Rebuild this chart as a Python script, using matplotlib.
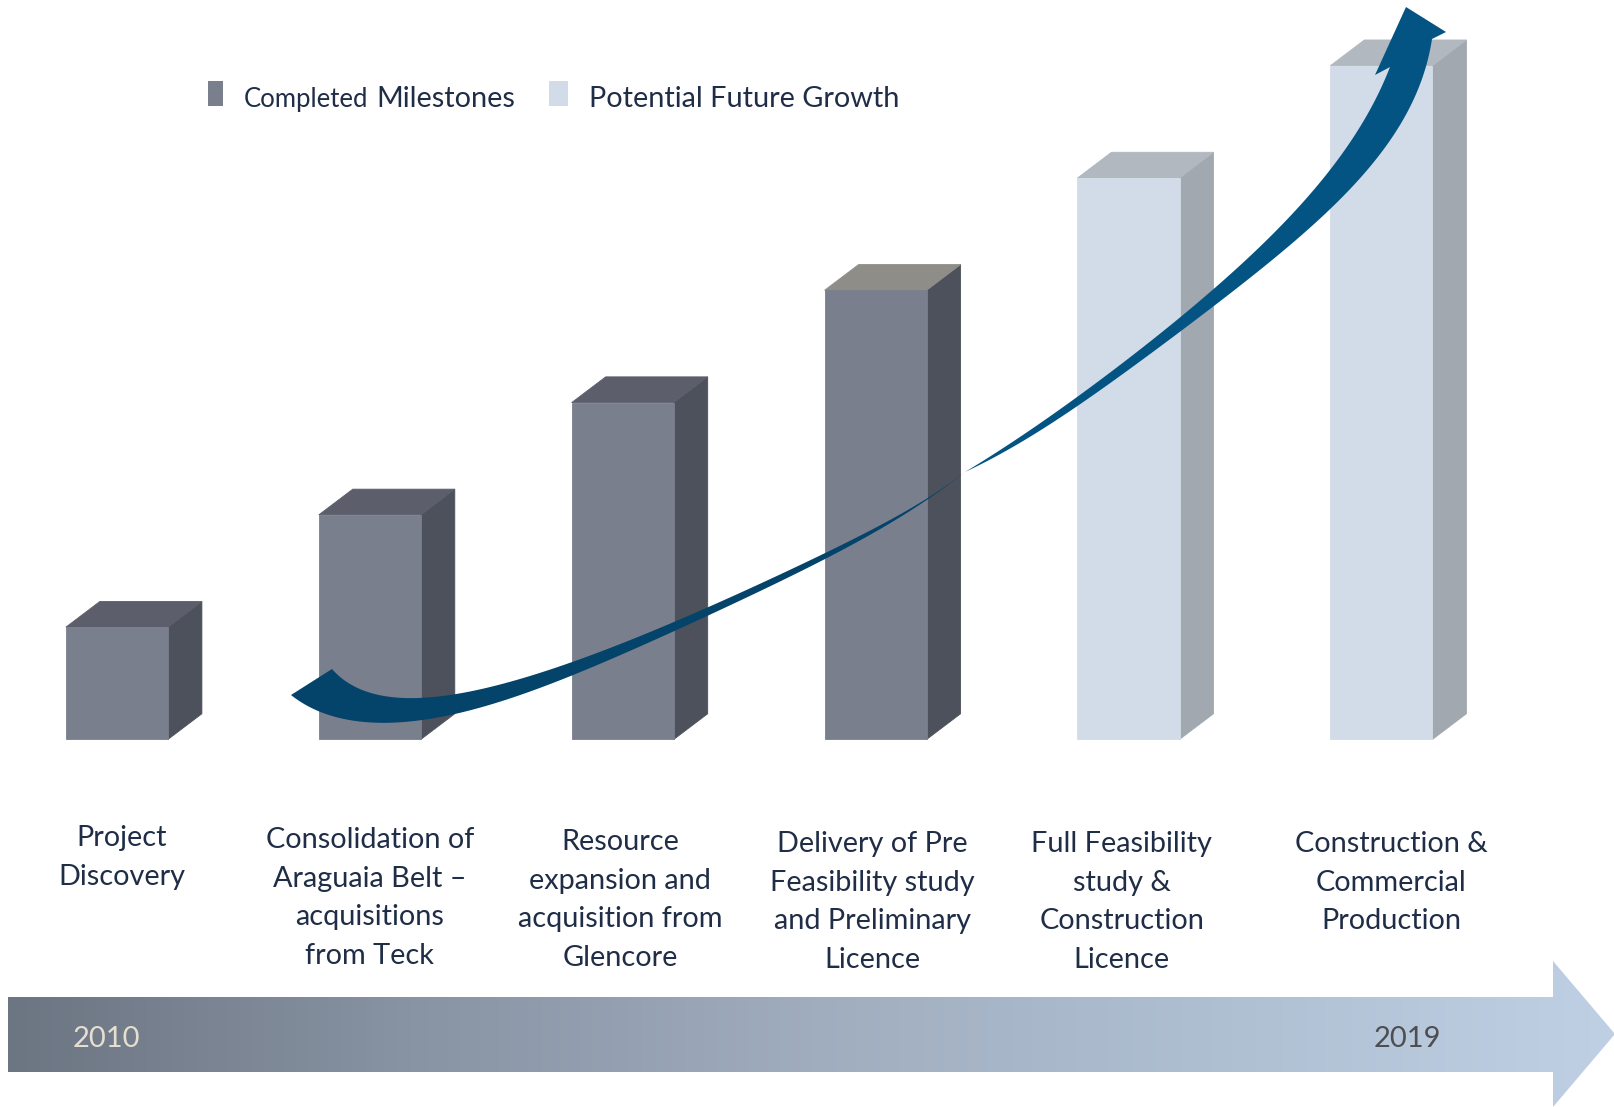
import numpy as np
import matplotlib
matplotlib.use("Agg")
import matplotlib.pyplot as plt
from matplotlib.patches import Polygon, Rectangle
from matplotlib.colors import LinearSegmentedColormap

plt.rcParams['font.family'] = ['Lato', 'DejaVu Sans']

# ---- chart content -------------------------------------------------------
stages = [
    "Project\nDiscovery",
    "Consolidation of\nAraguaia Belt –\nacquisitions\nfrom Teck",
    "Resource\nexpansion and\nacquisition from\nGlencore",
    "Delivery of Pre\nFeasibility study\nand Preliminary\nLicence",
    "Full Feasibility\nstudy &\nConstruction\nLicence",
    "Construction &\nCommercial\nProduction",
]
progress = [1, 2, 3, 4, 5, 6]
status = ["done", "done", "done", "done", "future", "future"]
years = ["2010", "2019"]

# ---- styling ---------------------------------------------------------------
FRONT = {"done": "#7a7f8e", "future": "#d2dce8"}
SIDE = {"done": "#4d515c", "future": "#a1a8b0"}
TOP = {"done": "#5c5e6c", "future": "#b1b8c0"}
TOP_OVERRIDE = {3: "#8f8d88"}
TEXT = "#1f2d46"
# small hand placement tweaks for the stage captions (x, y in axis units)
CAPTION_NUDGE = [(0.018, 0.009), (0.0, -0.009), (-0.010, -0.027),
                 (-0.014, -0.046), (-0.026, -0.046), (0.039, -0.046)]

W, H = 1615, 1107
fig = plt.figure(figsize=(W / 100, H / 100), dpi=100)

# data axes: x = stage index, y = progress units
ax = fig.add_axes([0, 0, 1, 1])
ax.set_xlim(-0.4622, 5.9237)
ax.set_ylim(-3.273, 6.585)
ax.axis("off")

bar_w = 0.4034
dx, dy = 0.1344, 0.229
xs = np.arange(len(progress))
fronts = [FRONT[s] for s in status]
ax.bar(xs, progress, width=bar_w, color=fronts, zorder=3,
       edgecolor=fronts, linewidth=0.6)
for i, (v, s) in enumerate(zip(progress, status)):
    l, r = i - bar_w / 2, i + bar_w / 2
    side = Polygon([(r, 0), (r + dx, dy), (r + dx, v + dy), (r, v)],
                   closed=True, facecolor=SIDE[s], edgecolor=SIDE[s],
                   linewidth=0.6, zorder=2)
    top_c = TOP_OVERRIDE.get(i, TOP[s])
    top = Polygon([(l, v), (r, v), (r + dx, v + dy), (l + dx, v + dy)],
                  closed=True, facecolor=top_c, edgecolor=top_c,
                  linewidth=0.6, zorder=2)
    ax.add_patch(side)
    ax.add_patch(top)

for i, lab in enumerate(stages):
    nx, ny = CAPTION_NUDGE[i]
    ax.text(i + nx, -0.77 + ny, lab, ha="center", va="top", fontsize=20.8,
            color=TEXT, linespacing=1.6, multialignment="center")

# ---- decoration layer in pixel space -------------------------------------
deco = fig.add_axes([0, 0, 1, 1], zorder=5)
deco.set_xlim(0, W)
deco.set_ylim(H, 0)
deco.axis("off")
deco.patch.set_alpha(0)


def fit_edge(pts, deg, n=240):
    """Smooth outline through rough guide points (chord-length polynomial)."""
    p = np.asarray(pts, float)
    d = np.r_[0, np.cumsum(np.hypot(*np.diff(p, axis=0).T))]
    t = d / d[-1]
    w = np.ones(len(p))
    w[0] = w[-1] = 30
    tt = np.linspace(0, 1, n)
    x = np.polyval(np.polyfit(t, p[:, 0], deg, w=w), tt)
    y = np.polyval(np.polyfit(t, p[:, 1], deg, w=w), tt)
    return np.c_[x, y]


# growth ribbon: twisted tail narrowing to a point, then widening to the head
tail_upper = [(332, 669), (345, 683), (358, 690), (375, 695), (400, 697),
              (433, 694), (500, 686), (540, 674), (607, 648), (673, 623),
              (740, 592), (823, 555), (907, 510), (965, 472)]
tail_lower = [(291, 695), (300, 702), (310, 707), (333, 717), (367, 722),
              (400, 722), (433, 718), (500, 703), (540, 687), (607, 660),
              (673, 633), (740, 600), (823, 560), (907, 513), (965, 472)]
head_inner = [(965, 472), (1063, 406), (1133, 357), (1200, 300),
              (1265, 240), (1330, 173), (1370, 107), (1390, 67)]
head_outer = [(965, 472), (1063, 413), (1133, 370), (1222, 300),
              (1292, 240), (1367, 173), (1410, 107), (1432, 39)]
head_tip = [(1375, 75), (1406, 7), (1446, 32)]

tail_poly = np.vstack([fit_edge(tail_upper, 6), fit_edge(tail_lower, 6)[::-1]])
deco.add_patch(Polygon(tail_poly, closed=True, facecolor="#04436a",
                       edgecolor="none", zorder=6))
head_poly = np.vstack([fit_edge(head_inner, 4), np.array(head_tip, float),
                       fit_edge(head_outer, 4)[::-1]])
deco.add_patch(Polygon(head_poly, closed=True, facecolor="#035482",
                       edgecolor="none", zorder=6))

# timeline arrow with gradient fill
band = Polygon([(8, 997), (1553, 997), (1553, 961), (1615, 1034),
                (1553, 1107), (1553, 1072), (8, 1072)], closed=True,
               facecolor="none", edgecolor="none")
deco.add_patch(band)
cmap = LinearSegmentedColormap.from_list(
    "timeline", ["#6c7582", "#8893a3", "#a0adbf", "#afbfd2", "#bfd0e4"])
grad = np.linspace(0, 1, 512)[None, :]
im = deco.imshow(grad, cmap=cmap, aspect="auto",
                 extent=(8, 1615, 1107, 961), zorder=1)
im.set_clip_path(band)
deco.text(106, 1039, years[0], ha="center", va="center", fontsize=21,
          color="#e6dfcf", zorder=7)
deco.text(1407, 1039, years[1], ha="center", va="center", fontsize=21,
          color="#4e4e52", zorder=7)

# legend
deco.add_patch(Rectangle((208, 81), 15.5, 25, facecolor=FRONT["done"],
                         edgecolor="none"))
deco.add_patch(Rectangle((549, 81), 19.5, 25, facecolor=FRONT["future"],
                         edgecolor="none"))
deco.text(244, 107, "Completed", ha="left", va="baseline", fontsize=18.5,
          color=TEXT)
deco.text(376, 107, "Milestones", ha="left", va="baseline", fontsize=20.8,
          color=TEXT)
deco.text(589, 107, "Potential Future Growth", ha="left", va="baseline",
          fontsize=20.8, color=TEXT)

fig.savefig("out.png", dpi=100, facecolor="white")
